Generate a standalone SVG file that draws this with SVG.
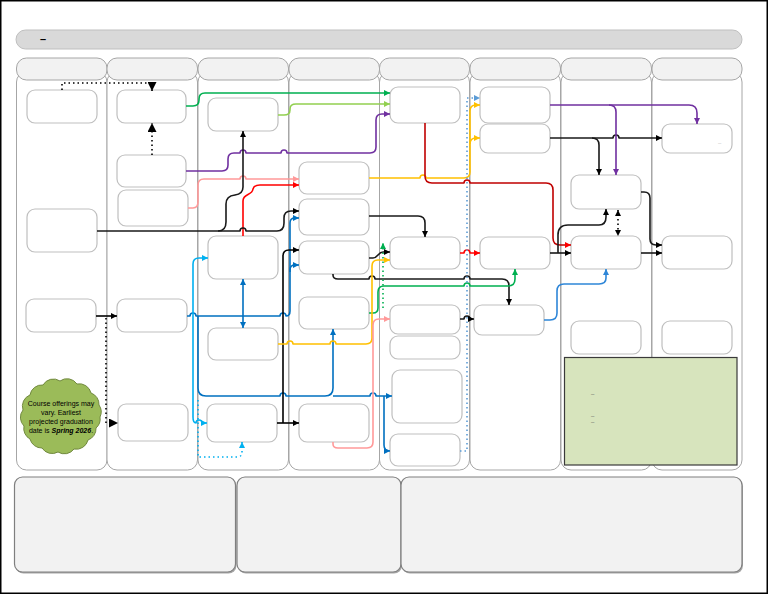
<svg xmlns="http://www.w3.org/2000/svg" width="768" height="594" viewBox="0 0 768 594">
<style>
.node{fill:#fff;stroke:#bfbfbf;stroke-width:1.2}
.hdr{fill:#f2f2f2;stroke:#a6a6a6;stroke-width:1}
.col{fill:#fff;stroke:#a6a6a6;stroke-width:1}
.bot{fill:#f2f2f2;stroke:#7f7f7f;stroke-width:1.2}
.c{fill:none;stroke-width:1.6;stroke-linejoin:round}
.dot{stroke-dasharray:1.5 3}
.t{font-family:"Liberation Sans",Arial,sans-serif}
</style>
<defs>
<marker id="mk" viewBox="0 0 6 6" refX="6" refY="3" markerWidth="6" markerHeight="6" markerUnits="userSpaceOnUse" orient="auto-start-reverse"><path d="M0,0L6,3L0,6z" fill="#000"/></marker>
<marker id="mkL" viewBox="0 0 6 6" refX="6" refY="3" markerWidth="9" markerHeight="9" markerUnits="userSpaceOnUse" orient="auto"><path d="M0,0L6,3L0,6z" fill="#000"/></marker>
<marker id="mg" viewBox="0 0 6 6" refX="6" refY="3" markerWidth="6" markerHeight="6" markerUnits="userSpaceOnUse" orient="auto"><path d="M0,0L6,3L0,6z" fill="#00b050"/></marker>
<marker id="mlg" viewBox="0 0 6 6" refX="6" refY="3" markerWidth="6" markerHeight="6" markerUnits="userSpaceOnUse" orient="auto"><path d="M0,0L6,3L0,6z" fill="#92d050"/></marker>
<marker id="mp" viewBox="0 0 6 6" refX="6" refY="3" markerWidth="6" markerHeight="6" markerUnits="userSpaceOnUse" orient="auto"><path d="M0,0L6,3L0,6z" fill="#7030a0"/></marker>
<marker id="mpk" viewBox="0 0 6 6" refX="6" refY="3" markerWidth="6" markerHeight="6" markerUnits="userSpaceOnUse" orient="auto"><path d="M0,0L6,3L0,6z" fill="#ff9999"/></marker>
<marker id="mr" viewBox="0 0 6 6" refX="6" refY="3" markerWidth="6" markerHeight="6" markerUnits="userSpaceOnUse" orient="auto"><path d="M0,0L6,3L0,6z" fill="#ff0000"/></marker>
<marker id="mb" viewBox="0 0 6 6" refX="6" refY="3" markerWidth="6" markerHeight="6" markerUnits="userSpaceOnUse" orient="auto"><path d="M0,0L6,3L0,6z" fill="#0070c0"/></marker>
<marker id="mlb" viewBox="0 0 6 6" refX="6" refY="3" markerWidth="6" markerHeight="6" markerUnits="userSpaceOnUse" orient="auto"><path d="M0,0L6,3L0,6z" fill="#00b0f0"/></marker>
<marker id="mb2" viewBox="0 0 6 6" refX="6" refY="3" markerWidth="6" markerHeight="6" markerUnits="userSpaceOnUse" orient="auto"><path d="M0,0L6,3L0,6z" fill="#2e86d8"/></marker>
<marker id="my" viewBox="0 0 6 6" refX="6" refY="3" markerWidth="6" markerHeight="6" markerUnits="userSpaceOnUse" orient="auto"><path d="M0,0L6,3L0,6z" fill="#ffc000"/></marker>
<marker id="mdb" viewBox="0 0 6 6" refX="6" refY="3" markerWidth="6" markerHeight="6" markerUnits="userSpaceOnUse" orient="auto"><path d="M0,0L6,3L0,6z" fill="#5b9bd5"/></marker>
</defs>
<rect x="0.75" y="0.75" width="766.5" height="592.5" fill="#fff" stroke="#000" stroke-width="1.5"/>
<g id="title"><rect x="16" y="30" width="726" height="19" rx="9.5" fill="#d9d9d9" stroke="#bfbfbf"/><text class="t" x="40" y="43" font-size="11" font-weight="bold">–</text></g>
<g id="columns">
<rect class="col" x="16.5" y="72" width="90.5" height="398" rx="10"/>
<rect class="col" x="107" y="72" width="90.5" height="398" rx="10"/>
<rect class="col" x="198" y="72" width="90.5" height="398" rx="10"/>
<rect class="col" x="289" y="72" width="90.5" height="398" rx="10"/>
<rect class="col" x="379.5" y="72" width="90" height="398" rx="10"/>
<rect class="col" x="470" y="72" width="90.5" height="398" rx="10"/>
<rect class="col" x="561" y="72" width="90.5" height="398" rx="10"/>
<rect class="col" x="652" y="72" width="90" height="398" rx="10"/>
<rect class="hdr" x="16.5" y="58" width="90.5" height="22" rx="10"/>
<rect class="hdr" x="107" y="58" width="90.5" height="22" rx="10"/>
<rect class="hdr" x="198" y="58" width="90.5" height="22" rx="10"/>
<rect class="hdr" x="289" y="58" width="90.5" height="22" rx="10"/>
<rect class="hdr" x="379.5" y="58" width="90" height="22" rx="10"/>
<rect class="hdr" x="470" y="58" width="90.5" height="22" rx="10"/>
<rect class="hdr" x="561" y="58" width="90.5" height="22" rx="10"/>
<rect class="hdr" x="652" y="58" width="90" height="22" rx="10"/>
</g>
<g id="bottom">
<rect x="15.5" y="478.5" width="221" height="95" rx="8" fill="#a6a6a6"/>
<rect class="bot" x="14.5" y="477" width="221" height="95" rx="8"/>
<rect x="238" y="478.5" width="164" height="95" rx="8" fill="#a6a6a6"/>
<rect class="bot" x="237" y="477" width="164" height="95" rx="8"/>
<rect x="402" y="478.5" width="341" height="95" rx="8" fill="#a6a6a6"/>
<rect class="bot" x="401" y="477" width="341" height="95" rx="8"/>
</g>
<g id="notes"><rect x="564.5" y="357.5" width="172.5" height="107.5" fill="#d7e4bd" stroke="#3a3a3a" stroke-width="1.2"/>
<text class="t" x="591" y="396" font-size="6" fill="#595959">–</text>
<text class="t" x="591" y="418" font-size="6" fill="#595959">–</text>
<text class="t" x="591" y="424" font-size="6" fill="#595959">–</text></g>
<g id="nA1"><rect class="node" x="27" y="90" width="70" height="33" rx="8"/></g>
<g id="nA2"><rect class="node" x="27" y="209" width="70" height="43" rx="8"/></g>
<g id="nA3"><rect class="node" x="26" y="299" width="70" height="33" rx="8"/></g>
<g id="nB1"><rect class="node" x="117" y="90" width="69" height="33" rx="8"/></g>
<g id="nB2"><rect class="node" x="117" y="155" width="69" height="32" rx="8"/></g>
<g id="nB3"><rect class="node" x="118" y="190" width="70" height="36" rx="8"/></g>
<g id="nB4"><rect class="node" x="117" y="299" width="70" height="33" rx="8"/></g>
<g id="nB5"><rect class="node" x="118" y="404" width="70" height="37" rx="8"/></g>
<g id="nC1"><rect class="node" x="208" y="98" width="70" height="33" rx="8"/></g>
<g id="nC2"><rect class="node" x="208" y="236" width="70" height="43" rx="8"/></g>
<g id="nC3"><rect class="node" x="208" y="328" width="70" height="32" rx="8"/></g>
<g id="nC4"><rect class="node" x="207" y="404" width="70" height="38" rx="8"/></g>
<g id="nD1"><rect class="node" x="299" y="162" width="70" height="32" rx="8"/></g>
<g id="nD2"><rect class="node" x="299" y="199" width="70" height="36" rx="8"/></g>
<g id="nD3"><rect class="node" x="299" y="241" width="70" height="33" rx="8"/></g>
<g id="nD4"><rect class="node" x="299" y="297" width="70" height="32" rx="8"/></g>
<g id="nD5"><rect class="node" x="299" y="404" width="70" height="38" rx="8"/></g>
<g id="nE1"><rect class="node" x="390" y="87" width="70" height="36" rx="8"/></g>
<g id="nE2"><rect class="node" x="390" y="237" width="70" height="32" rx="8"/></g>
<g id="nE3"><rect class="node" x="390" y="305" width="70" height="29" rx="8"/></g>
<g id="nE4"><rect class="node" x="390" y="336" width="70" height="23" rx="8"/></g>
<g id="nE5"><rect class="node" x="392" y="370" width="70" height="53" rx="8"/></g>
<g id="nE6"><rect class="node" x="390" y="434" width="70" height="32" rx="8"/></g>
<g id="nF1"><rect class="node" x="480" y="87" width="70" height="36" rx="8"/></g>
<g id="nF2"><rect class="node" x="480" y="124" width="70" height="29" rx="8"/></g>
<g id="nF3"><rect class="node" x="480" y="237" width="70" height="32" rx="8"/></g>
<g id="nF4"><rect class="node" x="474" y="305" width="70" height="30" rx="8"/></g>
<g id="nG1"><rect class="node" x="571" y="175" width="70" height="34" rx="8"/></g>
<g id="nG2"><rect class="node" x="571" y="236" width="70" height="33" rx="8"/></g>
<g id="nG3"><rect class="node" x="571" y="321" width="70" height="33" rx="8"/></g>
<g id="nH1"><rect class="node" x="662" y="124" width="70" height="29" rx="8"/><text class="t" x="718" y="145" font-size="6" fill="#bfbfbf">–</text></g>
<g id="nH2"><rect class="node" x="662" y="236" width="70" height="33" rx="8"/></g>
<g id="nH3"><rect class="node" x="662" y="321" width="70" height="33" rx="8"/></g>
<g id="cloud">
<path d="M100,417 A12,12 0 0 1 96,428 A12,12 0 0 1 88,440 A12,12 0 0 1 74,449 A12,12 0 0 1 58,452 A12,12 0 0 1 42,448 A12,12 0 0 1 30,439 A12,12 0 0 1 24,426 A12,12 0 0 1 23,410 A12,12 0 0 1 30,395 A12,12 0 0 1 43,385 A12,12 0 0 1 60,381 A12,12 0 0 1 77,384 A12,12 0 0 1 91,393 A12,12 0 0 1 99,405 A12,12 0 0 1 100,417 Z" fill="#9bbb59" stroke="#71893f" stroke-width="1"/>
<text class="t" font-size="7" text-anchor="middle" fill="#000"><tspan x="61" y="405.5">Course offerings may</tspan><tspan x="61" y="414.5">vary. Earliest</tspan><tspan x="61" y="423.5">projected graduation</tspan><tspan x="61" y="432.5">date is <tspan font-weight="bold" font-style="italic">Spring 2026</tspan>.</tspan></text>
</g>
<g id="connectors">
<path class="c dot" stroke="#000" d="M62,90 V83 H152 V91" marker-end="url(#mkL)"/>
<path class="c dot" stroke="#000" d="M152,155 V123" marker-end="url(#mkL)"/>
<path class="c" stroke="#000" d="M96,316 H117" marker-end="url(#mk)"/>
<path class="c dot" stroke="#000" d="M106,318 V423 H118" marker-end="url(#mkL)"/>
<path class="c" stroke="#00b050" d="M186,106 H193 Q199,106 199,100 V99 Q199,93 205,93 H390" marker-end="url(#mg)"/>
<path class="c" stroke="#92d050" d="M278,115 H284 Q290,115 290,110 V109 Q290,104 296,104 H390" marker-end="url(#mlg)"/>
<path class="c" stroke="#7030a0" d="M186,171 H222 Q228,171 228,165 V159 Q228,153 234,153 H240 a3,3 0 0 1 6,0 H281 a3,3 0 0 1 6,0 H370 Q376,153 376,147 V120 Q376,114 382,114 H390" marker-end="url(#mp)"/>
<path class="c" stroke="#ff9999" d="M188,208 H193 Q198,208 198,202 V185 Q198,179 204,179 H240 a3,3 0 0 1 6,0 H299" marker-end="url(#mpk)"/>
<path class="c" stroke="#ff0000" d="M243,236 V201 C243,193 252,196 253,189 Q254,185 260,185 H299" marker-end="url(#mr)"/>
<path class="c" stroke="#1a1a1a" d="M97,231 H218 Q226,231 226,222 V204 Q226,196 235,195 Q243,194 243,187 V131" marker-end="url(#mk)"/>
<path class="c" stroke="#1a1a1a" d="M218,231 H240 a3,3 0 0 1 6,0 H277 Q284,231 284,223 V218 Q284,211 291,211 H299" marker-end="url(#mk)"/>
<path class="c" stroke="#0070c0" d="M187,316 H190 a3,3 0 0 1 6,0 H280 a3,3 0 0 1 6,0 H286 Q290,316 290,311 V270 Q290,265 295,265 H299" marker-end="url(#mb)"/>
<path class="c" stroke="#0070c0" d="M290,272 V223 Q290,218 295,218 H299" marker-end="url(#mb)"/>
<path class="c" stroke="#0070c0" d="M243,316 V279" marker-end="url(#mb)"/>
<path class="c" stroke="#0070c0" d="M243,316 V328" marker-end="url(#mb)"/>
<path class="c" stroke="#0070c0" d="M198,316 V388 Q198,396 206,396 H280 a3,3 0 0 1 6,0 H325 Q333,396 333,388 V329" marker-end="url(#mb)"/>
<path class="c" stroke="#0070c0" d="M333,396 H370 a3,3 0 0 1 6,0 H392" marker-end="url(#mb)"/>
<path class="c" stroke="#0070c0" d="M384,396 V445 Q384,451 390,451" marker-end="url(#mb)"/>
<path class="c" stroke="#00b0f0" d="M193,316 V264 Q193,258 199,258 H208" marker-end="url(#mlb)"/>
<path class="c" stroke="#00b0f0" d="M193,316 V417 Q193,423 196,423 a3,3 0 0 1 6,0 H207" marker-end="url(#mlb)"/>
<path class="c dot" stroke="#00b0f0" d="M198,400 V457 H237 Q242,457 242,452 V442" marker-end="url(#mlb)"/>
<path class="c" stroke="#000" d="M277,423 H299" marker-end="url(#mk)"/>
<path class="c" stroke="#000" d="M283,423 V256 Q283,250 289,250 H299" marker-end="url(#mk)"/>
<path class="c" stroke="#1a1a1a" d="M369,216 H418 Q425,216 425,223 V237" marker-end="url(#mk)"/>
<path class="c" stroke="#1a1a1a" d="M369,258 H373 C378,258 378,252 383,252 H390" marker-end="url(#mk)"/>
<path class="c" stroke="#1a1a1a" d="M333,274 V275 Q333,279 338,279 H369 a3,3 0 0 1 6,0 H464 a3,3 0 0 1 6,0 H502 Q509,279 509,286 V305" marker-end="url(#mk)"/>
<path class="c" stroke="#00b050" d="M369,313 H373 Q378,313 378,308 V292 Q378,286 384,286 H464 a3,3 0 0 1 6,0 H508 Q515,286 515,279 V269" marker-end="url(#mg)"/>
<path class="c dot" stroke="#00b050" d="M383,308 V243" marker-end="url(#mg)"/>
<path class="c" stroke="#ffc000" d="M369,178 H420 a3,3 0 0 1 6,0 H464 Q470,178 470,172 V111 Q470,105 476,105 H480" marker-end="url(#my)"/>
<path class="c" stroke="#ffc000" d="M470,144 Q470,138 476,138 H480" marker-end="url(#my)"/>
<path class="c" stroke="#ffc000" d="M278,344 H287 a3,3 0 0 1 6,0 H330 a3,3 0 0 1 6,0 H366 Q372,344 372,338 V266 Q372,260 378,260 H390" marker-end="url(#my)"/>
<path class="c" stroke="#c00000" stroke-width="2" d="M425,123 V176 Q425,183 432,183 H464 a3,3 0 0 1 6,0 H546 Q553,183 553,190 V238 Q553,245 560,245 H571" marker-end="url(#mr)"/>
<path class="c" stroke="#ff0000" d="M460,253 H464 a3,3 0 0 1 6,0 H480" marker-end="url(#mr)"/>
<path class="c" stroke="#1a1a1a" d="M550,253 H571" marker-end="url(#mk)"/>
<path class="c" stroke="#1a1a1a" d="M558,253 V235 Q558,225 568,225 H599 Q606,225 606,217 V209" marker-end="url(#mk)"/>
<path class="c dot" stroke="#000" d="M618,210 V236" marker-start="url(#mk)" marker-end="url(#mk)"/>
<path class="c" stroke="#1a1a1a" d="M550,138 H592 Q599,138 599,145 V175" marker-end="url(#mk)"/>
<path class="c" stroke="#1a1a1a" d="M592,138 H613 a3,3 0 0 1 6,0 H662" marker-end="url(#mk)"/>
<path class="c" stroke="#7030a0" d="M550,105 H609 Q616,105 616,112 V175" marker-end="url(#mp)"/>
<path class="c" stroke="#7030a0" d="M609,105 H689 Q697,105 697,113 V124" marker-end="url(#mp)"/>
<path class="c" stroke="#1a1a1a" d="M641,192 H644 Q650,192 650,198 V239 Q650,245 656,245 H662" marker-end="url(#mk)"/>
<path class="c" stroke="#1a1a1a" d="M641,253 H662" marker-end="url(#mk)"/>
<path class="c" stroke="#2e86d8" d="M544,320 H550 Q557,320 557,313 V291 Q557,284 564,284 H599 Q606,284 606,278 V269" marker-end="url(#mb2)"/>
<path class="c" stroke="#1a1a1a" d="M460,319 H464 a3,3 0 0 1 6,0 H474" marker-end="url(#mk)"/>
<path class="c" stroke="#ff9999" d="M333,442 V444 Q333,448 338,448 H367 Q373,448 373,442 V325 Q373,319 379,319 H390" marker-end="url(#mpk)"/>
<path class="c" stroke="#5b9bd5" stroke-dasharray="1.5 3" d="M460,451 H467 V98 H480" marker-end="url(#mdb)"/>
</g>
</svg>
